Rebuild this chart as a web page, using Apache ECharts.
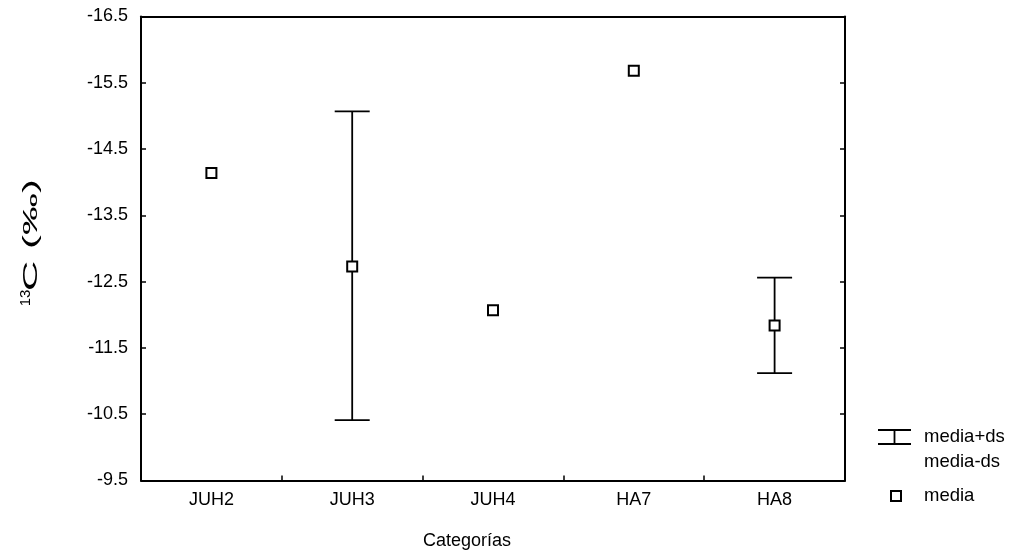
<!DOCTYPE html>
<html>
<head>
<meta charset="utf-8">
<script src="https://cdn.jsdelivr.net/npm/echarts@6/dist/echarts.min.js"></script>
<style>
html,body{margin:0;padding:0;background:#fff;}
#chart{width:1013px;height:554px;}
</style>
</head>
<body>
<div id="chart"></div>
<script>
const categories = ['JUH2', 'JUH3', 'JUH4', 'HA7', 'HA8'];
const media = [-14.14, -12.73, -12.07, -15.68, -11.84];
const mediaMasDs = [null, -10.41, null, null, -11.12];
const mediaMenosDs = [null, -15.07, null, null, -12.56];
const yMin = -16.5, yMax = -9.5, yStep = 1;

const FONT = '"Liberation Sans", Arial, Helvetica, sans-serif';
const chart = echarts.init(document.getElementById('chart'), null, {renderer: 'canvas'});

const errData = [];
categories.forEach((c, i) => {
  if (mediaMasDs[i] != null && mediaMenosDs[i] != null) errData.push([i, mediaMenosDs[i], mediaMasDs[i]]);
});

const yAxisBase = {
  type: 'value', min: yMin, max: yMax, interval: yStep, inverse: true,
  axisLine: {show: true, onZero: false, lineStyle: {color: '#000', width: 2}},
  axisTick: {show: true, inside: true, length: 5, lineStyle: {color: '#000', width: 1.5}},
  splitLine: {show: false}
};

chart.setOption({
  animation: false,
  backgroundColor: '#fff',
  grid: {left: 141, right: 168, top: 16.5, bottom: 73.5, containLabel: false},
  xAxis: [{
    type: 'category', data: categories, position: 'bottom', boundaryGap: true,
    axisLine: {show: true, onZero: false, lineStyle: {color: '#000', width: 2}},
    axisTick: {show: true, inside: true, length: 5, lineStyle: {color: '#000', width: 1.5}},
    axisLabel: {color: '#000', fontSize: 18, fontFamily: FONT, margin: 11},
    splitLine: {show: false}
  }, {
    type: 'category', data: categories, position: 'top', boundaryGap: true,
    axisLine: {show: true, onZero: false, lineStyle: {color: '#000', width: 2}},
    axisTick: {show: false}, axisLabel: {show: false}, splitLine: {show: false}
  }],
  yAxis: [Object.assign({}, yAxisBase, {
    position: 'left',
    axisLabel: {color: '#000', fontSize: 18, fontFamily: FONT, margin: 13,
      formatter: v => v.toFixed(1)}
  }), Object.assign({}, yAxisBase, {
    position: 'right', axisLabel: {show: false}
  })],
  series: [{
    type: 'custom', name: 'media+ds', xAxisIndex: 0, yAxisIndex: 0, z: 2,
    data: errData,
    encode: {x: 0, y: [1, 2]},
    renderItem: function (params, api) {
      const i = api.value(0);
      const a = api.coord([i, api.value(1)]);
      const b = api.coord([i, api.value(2)]);
      const hw = 17.5;
      const st = {stroke: '#000', lineWidth: 1.8};
      return {type: 'group', children: [
        {type: 'line', shape: {x1: a[0], y1: a[1], x2: b[0], y2: b[1]}, style: st},
        {type: 'line', shape: {x1: a[0] - hw, y1: a[1], x2: a[0] + hw, y2: a[1]}, style: st},
        {type: 'line', shape: {x1: b[0] - hw, y1: b[1], x2: b[0] + hw, y2: b[1]}, style: st}
      ]};
    }
  }, {
    type: 'scatter', name: 'media', xAxisIndex: 0, yAxisIndex: 0, z: 3,
    data: media,
    symbol: 'rect', symbolSize: 10,
    itemStyle: {color: '#fff', borderColor: '#000', borderWidth: 2, opacity: 1}
  }],
  graphic: [
    // y-axis title
    {type: 'text', x: 26, y: 298, rotation: Math.PI / 2,
      style: {text: '13', fontSize: 15, fontFamily: FONT, fill: '#000', align: 'center', verticalAlign: 'middle'}},
    {type: 'text', x: 31, y: 235, rotation: Math.PI / 2, scaleX: 2.0,
      style: {text: 'C (‰)', fontSize: 21, fontFamily: FONT, fill: '#000', align: 'center', verticalAlign: 'middle'}},
    // x-axis title
    {type: 'text', x: 467, y: 541,
      style: {text: 'Categorías', fontSize: 18, fontFamily: FONT, fill: '#000', align: 'center', verticalAlign: 'middle'}},
    // legend
    {type: 'line', shape: {x1: 878, y1: 430, x2: 911, y2: 430}, style: {stroke: '#000', lineWidth: 1.8}},
    {type: 'line', shape: {x1: 878, y1: 444, x2: 911, y2: 444}, style: {stroke: '#000', lineWidth: 1.8}},
    {type: 'line', shape: {x1: 894.5, y1: 430, x2: 894.5, y2: 444}, style: {stroke: '#000', lineWidth: 1.8}},
    {type: 'text', x: 924, y: 437, style: {text: 'media+ds', fontSize: 18.5, fontFamily: FONT, fill: '#000', align: 'left', verticalAlign: 'middle'}},
    {type: 'text', x: 924, y: 462, style: {text: 'media-ds', fontSize: 18.5, fontFamily: FONT, fill: '#000', align: 'left', verticalAlign: 'middle'}},
    {type: 'rect', shape: {x: 891, y: 491, width: 10, height: 10}, style: {fill: '#fff', stroke: '#000', lineWidth: 2}},
    {type: 'text', x: 924, y: 496, style: {text: 'media', fontSize: 18.5, fontFamily: FONT, fill: '#000', align: 'left', verticalAlign: 'middle'}}
  ]
});
</script>
</body>
</html>
